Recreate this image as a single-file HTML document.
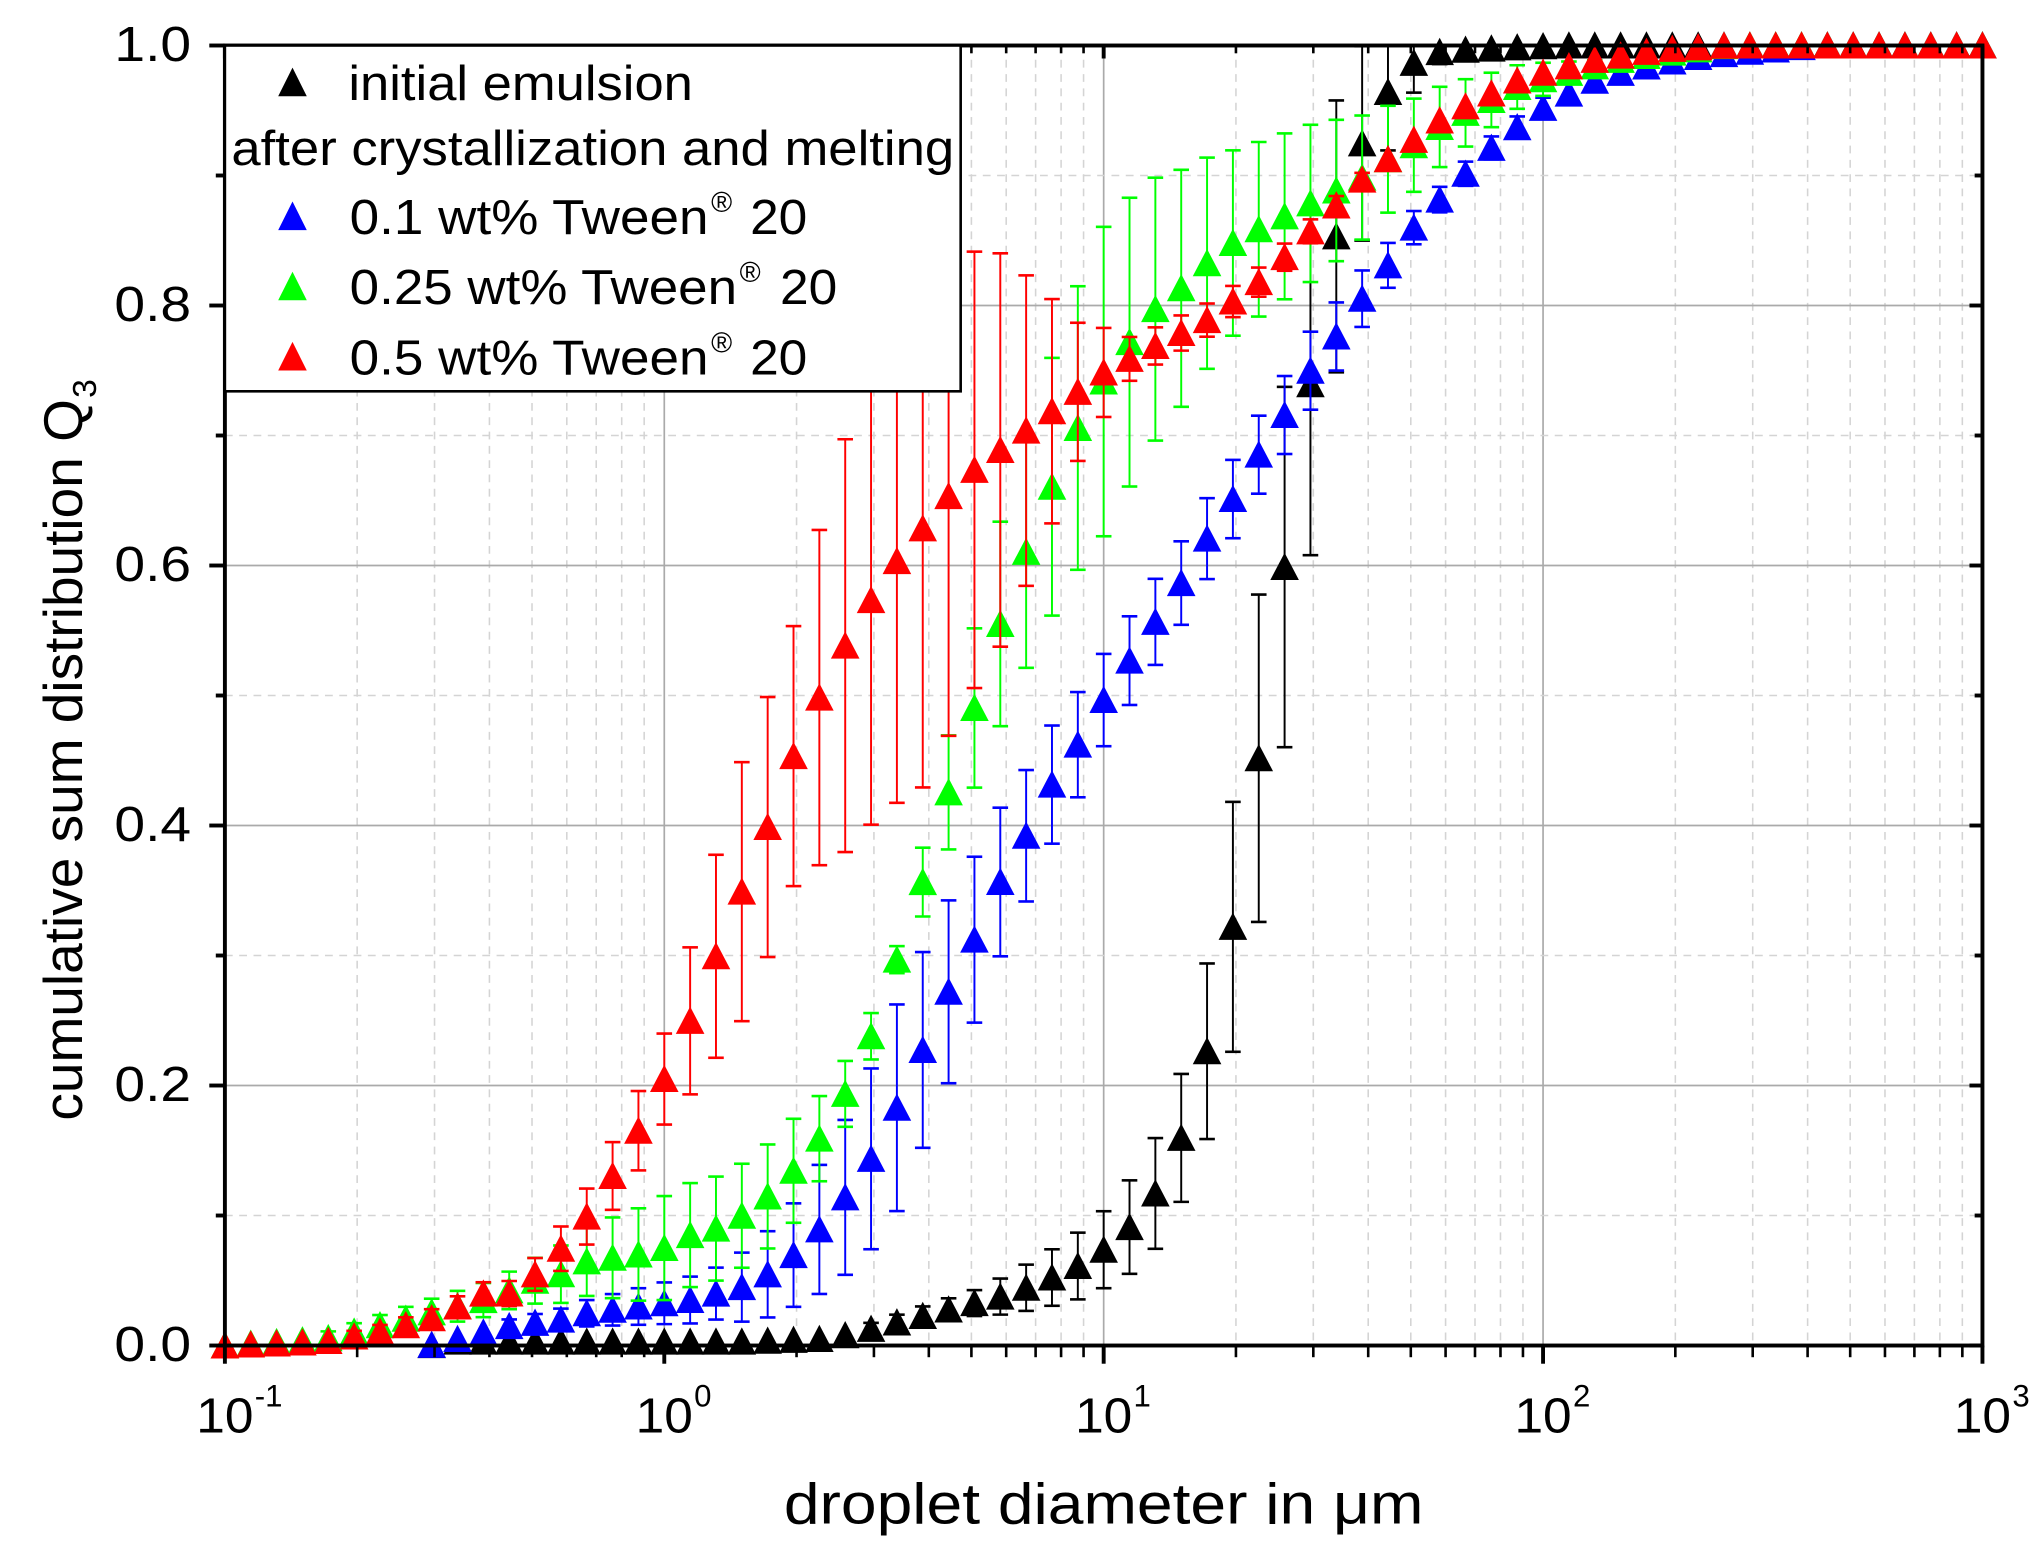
<!DOCTYPE html>
<html><head><meta charset="utf-8"><style>html,body{margin:0;padding:0;background:#fff}svg{display:block}</style></head>
<body>
<svg id="s" width="2039" height="1553" viewBox="0 0 1568.5 1194.6" preserveAspectRatio="none" xmlns="http://www.w3.org/2000/svg" font-family="Liberation Sans, Arial, sans-serif">
<g id="grid"></g>
<g id="data"></g>
<g id="axes"></g>
<g id="legend">
<rect x="173" y="35" width="566" height="266" fill="#fff" stroke="#000" stroke-width="2"/>
<polygon points="214,74 236,74 225,52" fill="#000"/>
<text x="268" y="77" font-size="38" textLength="265" lengthAdjust="spacingAndGlyphs">initial emulsion</text>
<text x="178" y="127" font-size="38" textLength="556" lengthAdjust="spacingAndGlyphs">after crystallization and melting</text>
<polygon points="214,177 236,177 225,155" fill="#0000ff"/>
<text x="269" y="180" font-size="38" textLength="276" lengthAdjust="spacingAndGlyphs">0.1 wt% Tween</text>
<text x="547" y="163" font-size="22">®</text>
<text x="577" y="180" font-size="38" textLength="44" lengthAdjust="spacingAndGlyphs">20</text>
<polygon points="214,231 236,231 225,209" fill="#00ff00"/>
<text x="269" y="234" font-size="38" textLength="298" lengthAdjust="spacingAndGlyphs">0.25 wt% Tween</text>
<text x="569" y="217" font-size="22">®</text>
<text x="600" y="234" font-size="38" textLength="44" lengthAdjust="spacingAndGlyphs">20</text>
<polygon points="214,285 236,285 225,263" fill="#ff0000"/>
<text x="269" y="288" font-size="38" textLength="276" lengthAdjust="spacingAndGlyphs">0.5 wt% Tween</text>
<text x="547" y="271" font-size="22">®</text>
<text x="577" y="288" font-size="38" textLength="44" lengthAdjust="spacingAndGlyphs">20</text>
</g>
<text x="603" y="1172" font-size="44" textLength="492" lengthAdjust="spacingAndGlyphs">droplet diameter in μm</text>
<g transform="translate(63,862) rotate(-90)">
<text x="0" y="0" font-size="42" textLength="555" lengthAdjust="spacingAndGlyphs">cumulative sum distribution Q</text>
<text x="556" y="11" font-size="26">3</text>
</g>
</svg>
<script>
const NS="http://www.w3.org/2000/svg";
const L=173,R=1525,T=35,B=1035,DX=338;
function el(p,t,a,txt){const e=document.createElementNS(NS,t);for(const k in a)e.setAttribute(k,a[k]);if(txt!==undefined)e.textContent=txt;document.getElementById(p).appendChild(e);return e;}
const X=d=>L+DX*Math.log10(d/0.1), Y=q=>B-1000*q;
for(let e=-1;e<3;e++)for(let m=2;m<=9;m++){const x=X(m*Math.pow(10,e));el('grid','line',{x1:x,x2:x,y1:T,y2:B,stroke:'#d4d4d4','stroke-width':1.2,'stroke-dasharray':'6,5'});}
for(let e=0;e<3;e++){const x=X(Math.pow(10,e));el('grid','line',{x1:x,x2:x,y1:T,y2:B,stroke:'#aaa','stroke-width':1.3});}
for(let i=1;i<10;i+=2){const y=Y(i/10);el('grid','line',{x1:L,x2:R,y1:y,y2:y,stroke:'#d4d4d4','stroke-width':1.2,'stroke-dasharray':'6,5'});}
for(let i=2;i<10;i+=2){const y=Y(i/10);el('grid','line',{x1:L,x2:R,y1:y,y2:y,stroke:'#aaa','stroke-width':1.3});}
el('axes','rect',{x:L,y:T,width:R-L,height:B-T,fill:'none',stroke:'#000','stroke-width':3});
for(let e=-1;e<=3;e++){const x=X(Math.pow(10,e));el('axes','line',{x1:x,x2:x,y1:B,y2:B+14,stroke:'#000','stroke-width':3});
 el('axes','line',{x1:x,x2:x,y1:T,y2:T+10,stroke:'#000','stroke-width':3});
 el('axes','text',{x:x-22,y:1102,'font-size':38,textLength:44,lengthAdjust:'spacingAndGlyphs'},'10');
 el('axes','text',{x:x+23,y:1082,'font-size':24},String(e));}
for(let e=-1;e<3;e++)for(let m=2;m<=9;m++){const x=X(m*Math.pow(10,e));el('axes','line',{x1:x,x2:x,y1:B,y2:B+9,stroke:'#000','stroke-width':2});el('axes','line',{x1:x,x2:x,y1:T,y2:T+6,stroke:'#000','stroke-width':2});}
for(let i=0;i<=10;i++){const y=Y(i/10),maj=i%2==0;
 el('axes','line',{x1:L-(maj?12:7),x2:L,y1:y,y2:y,stroke:'#000','stroke-width':3});
 el('axes','line',{x1:R-(maj?10:6),x2:R,y1:y,y2:y,stroke:'#000','stroke-width':3});
 if(maj)el('axes','text',{x:88,y:y+12,'font-size':38,textLength:59,lengthAdjust:'spacingAndGlyphs'},(i/10).toFixed(1));}
function interp(pts,x){if(x<=pts[0][0])return pts[0][1];for(let i=1;i<pts.length;i++)if(x<=pts[i][0]){const a=pts[i-1],b=pts[i];return a[1]+(b[1]-a[1])*(x-a[0])/(b[0]-a[0]);}return pts[pts.length-1][1];}
const S={
black:{c:'#000',start:330,e:[[600,0],[750,0.01],[851,0.03],[911,0.05],[931,0.07],[951,0.1],[971,0.13],[991,0.14],[1011,0.13],[1031,0.1],[1071,0.04],[1100,0.01],[1200,0]],p:[[330,0],[350,0.003],[571,0.003],[631,0.005],[651,0.008],[671,0.013],[691,0.018],[711,0.023],[731,0.028],[751,0.033],[771,0.038],[791,0.045],[811,0.053],[831,0.062],[851,0.075],[871,0.093],[891,0.12],[911,0.165],[931,0.235],[951,0.335],[971,0.47],[991,0.62],[1011,0.76],[1031,0.87],[1051,0.935],[1071,0.97],[1091,0.99],[1111,0.996],[1200,1]]},
blue:{c:'#0000ff',start:330,e:[[330,0],[450,0.01],[551,0.02],[611,0.04],[651,0.06],[691,0.08],[731,0.07],[791,0.05],[851,0.035],[951,0.03],[1011,0.03],[1100,0.01],[1300,0.005],[1500,0.004]],p:[[330,0],[352,0.005],[372,0.01],[392,0.015],[432,0.02],[452,0.025],[491,0.03],[531,0.035],[551,0.04],[571,0.045],[591,0.055],[611,0.07],[631,0.09],[651,0.115],[671,0.145],[691,0.185],[711,0.23],[731,0.275],[751,0.315],[771,0.36],[791,0.395],[811,0.435],[831,0.465],[851,0.5],[871,0.53],[891,0.56],[911,0.59],[931,0.625],[951,0.655],[971,0.69],[991,0.72],[1011,0.755],[1031,0.78],[1051,0.81],[1071,0.835],[1091,0.865],[1111,0.885],[1131,0.905],[1151,0.925],[1171,0.94],[1191,0.955],[1211,0.965],[1231,0.975],[1271,0.985],[1311,0.992],[1400,1]]},
green:{c:'#00ff00',start:173,e:[[173,0],[400,0.015],[511,0.04],[611,0.04],[691,0.01],[731,0.045],[771,0.08],[811,0.1],[851,0.12],[891,0.1],[951,0.07],[1011,0.06],[1071,0.04],[1151,0.02],[1250,0]],p:[[173,0],[250,0.005],[290,0.015],[330,0.025],[372,0.035],[412,0.05],[432,0.055],[452,0.065],[491,0.07],[511,0.075],[531,0.085],[551,0.09],[571,0.1],[591,0.115],[611,0.135],[631,0.16],[651,0.195],[671,0.24],[691,0.3],[711,0.36],[731,0.43],[751,0.495],[771,0.56],[791,0.615],[811,0.665],[831,0.71],[851,0.745],[871,0.775],[891,0.8],[911,0.815],[931,0.835],[951,0.85],[971,0.86],[991,0.87],[1011,0.88],[1031,0.89],[1051,0.9],[1071,0.915],[1091,0.925],[1111,0.94],[1131,0.95],[1151,0.96],[1171,0.97],[1211,0.98],[1251,0.99],[1330,1]]},
red:{c:'#ff0000',start:173,e:[[173,0],[400,0.01],[511,0.035],[571,0.1],[611,0.1],[651,0.16],[711,0.2],[771,0.15],[831,0.05],[871,0.015],[1000,0.01],[1100,0]],p:[[173,0],[250,0.003],[290,0.01],[330,0.02],[352,0.03],[372,0.04],[392,0.04],[412,0.055],[432,0.075],[452,0.1],[471,0.13],[491,0.165],[511,0.205],[531,0.25],[551,0.3],[571,0.35],[591,0.4],[611,0.455],[631,0.5],[651,0.54],[671,0.575],[691,0.605],[711,0.63],[731,0.655],[751,0.675],[771,0.69],[791,0.705],[811,0.72],[831,0.735],[851,0.75],[871,0.76],[891,0.77],[911,0.78],[931,0.79],[951,0.805],[971,0.82],[991,0.84],[1011,0.86],[1031,0.88],[1051,0.9],[1071,0.915],[1091,0.93],[1111,0.945],[1131,0.955],[1151,0.965],[1171,0.975],[1191,0.98],[1211,0.985],[1231,0.99],[1280,0.997],[1330,1]]}
};
for(const k of ['black','blue','green','red']){const s=S[k];
 for(let i=0;i<=68;i++){const x=L+i*DX/17;if(x<s.start-1)continue;const q=interp(s.p,x);
  const e=interp(s.e,x);
  if(e>0.004){const y1=Y(Math.min(1,q+e)),y2=Y(Math.max(0,q-e));
   el('data','line',{x1:x,x2:x,y1:y1,y2:y2,stroke:s.c,'stroke-width':1.5});
   el('data','line',{x1:x-6,x2:x+6,y1:y1,y2:y1,stroke:s.c,'stroke-width':2});
   el('data','line',{x1:x-6,x2:x+6,y1:y2,y2:y2,stroke:s.c,'stroke-width':2});}
  const y=Y(q);el('data','polygon',{points:`${x-11},${y+10} ${x+11},${y+10} ${x},${y-11}`,fill:s.c});}
}
</script>
</body></html>
